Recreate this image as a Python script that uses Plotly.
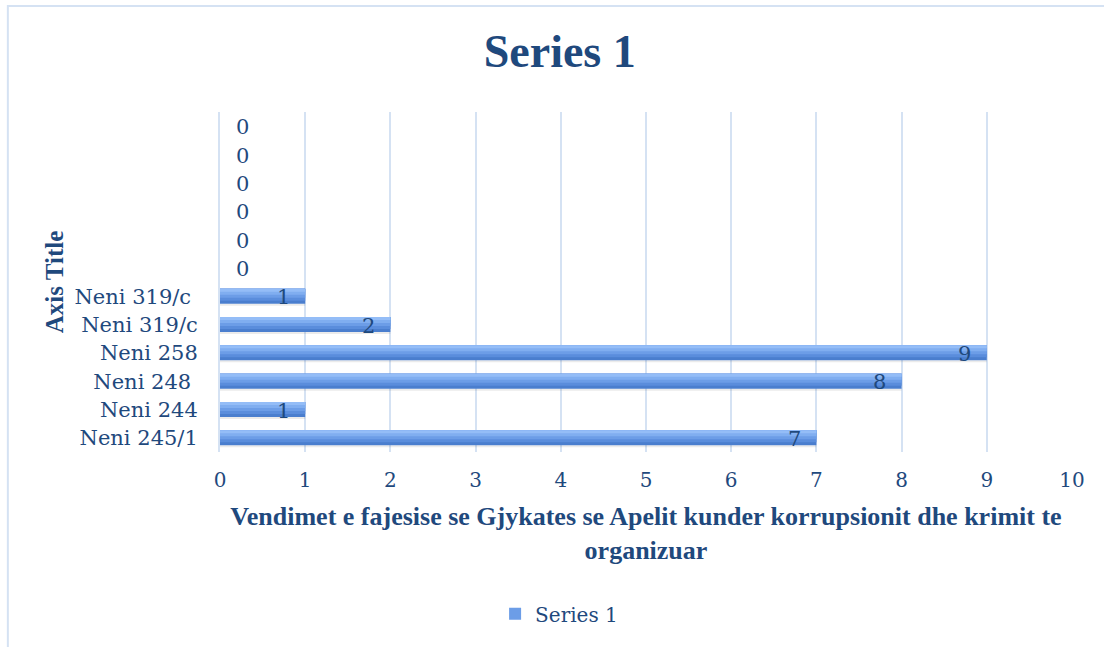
import plotly.graph_objects as go

categories = ["Neni 245/1", "Neni 244", "Neni 248\u00a0", "Neni 258", "Neni 319/c", "Neni 319/c\u00a0",
              "", "", "", "", "", ""]
values = [7, 1, 8, 9, 2, 1, 0, 0, 0, 0, 0, 0]
x_ticks = list(range(0, 11))
series_name = "Series 1"
chart_title = "Series 1"
x_title = "Vendimet e fajesise se Gjykates se Apelit kunder korrupsionit dhe krimit te<br>organizuar"
y_title = "Axis Title"

TXT = "#1F497D"
GRID = "#D5E2F3"
positions = list(range(len(categories)))

fig = go.Figure()

# gradient simulation: stacked overlapping bands from bottom (dark) to top (light)
band_colors = ["#4A7ECE", "#5A8DDC", "#6C9DE7", "#80AEF0", "#94BDF7"]
bar_w = 0.53
n = len(band_colors)
bw = bar_w / n
# shadow
fig.add_trace(go.Bar(y=positions, x=values, orientation="h", width=0.07, offset=-bar_w / 2 - 0.07,
                     marker=dict(color="rgba(0,0,0,0.08)", line=dict(width=0)),
                     showlegend=False, hoverinfo="skip"))
for k, c in enumerate(band_colors):
    start = -bar_w / 2 + k * bw
    fig.add_trace(go.Bar(
        y=positions, x=values, orientation="h",
        width=bar_w / 2 - start, offset=start,
        marker=dict(color=c, line=dict(width=0)),
        name=series_name, showlegend=(k == 2), hoverinfo="x+y",
    ))

# data labels
for p, v in zip(positions, values):
    fig.add_annotation(x=v, y=p, text=str(v), showarrow=False,
                       xanchor="center", yanchor="middle",
                       xshift=(22 if v == 0 else -22), yshift=-1,
                       font=dict(family="DejaVu Serif", size=21, color=TXT))

# outer chart border
fig.add_shape(type="rect", xref="paper", yref="paper",
              x0=-0.249, y0=-1.2, x1=1.2, y1=1.312,
              line=dict(color="#D5E2F3", width=2), fillcolor="rgba(0,0,0,0)", layer="below")

fig.update_layout(
    width=1104, height=647,
    margin=dict(l=220, r=32, t=112, b=195),
    paper_bgcolor="white", plot_bgcolor="white",
    barmode="overlay",
    title=dict(text=f"<b>{chart_title}</b>", x=0.507, xanchor="center", xref="container",
               y=0.922, yanchor="middle",
               font=dict(family="Liberation Serif", size=46, color=TXT)),
    font=dict(family="DejaVu Serif", size=20, color=TXT),
    showlegend=True,
    legend=dict(orientation="h", x=0.398, xanchor="center", y=-0.476, yanchor="middle",
                font=dict(family="DejaVu Serif", size=20, color=TXT),
                itemwidth=30),
    xaxis=dict(range=[0, 10], tickvals=x_ticks, showgrid=True, gridcolor=GRID, gridwidth=2,
               zeroline=False, showline=False, ticks="", ticklabelstandoff=14,
               tickfont=dict(family="DejaVu Serif", size=20, color=TXT),
               title=dict(text=f"<b>{x_title}</b>", standoff=15,
                          font=dict(family="Liberation Serif", size=26, color=TXT))),
    yaxis=dict(range=[-0.5, len(categories) - 0.5], tickvals=positions, ticktext=categories,
               showgrid=False, zeroline=False, showline=True, linecolor=GRID, linewidth=2,
               ticks="", ticklabelstandoff=16,
               tickfont=dict(family="DejaVu Serif", size=21, color=TXT),
               title=dict(text=f"<b>{y_title}</b>", standoff=4,
                          font=dict(family="Liberation Serif", size=25, color=TXT))),
)

fig.write_html("out.html", post_script="document.body.style.margin='0';",
               config={"displayModeBar": False})
